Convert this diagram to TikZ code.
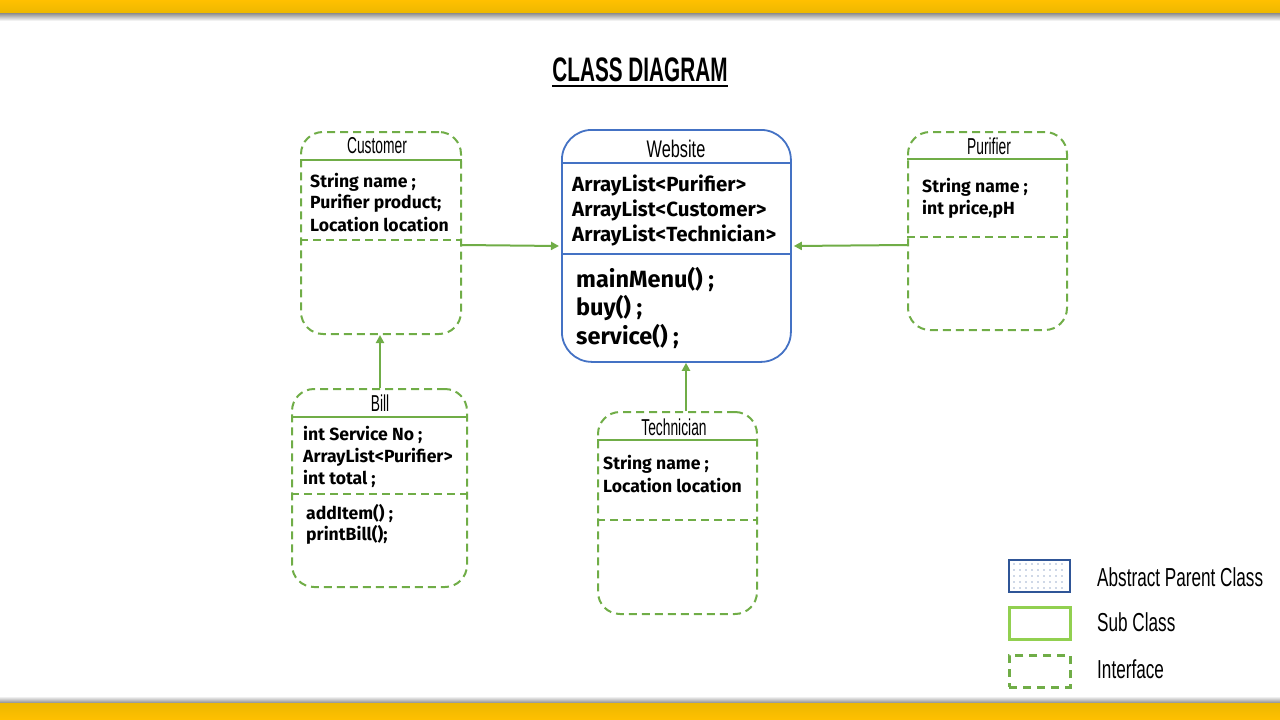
\documentclass[tikz,border=0pt]{standalone}
\usepackage{fontspec}
\setmainfont{Fira Sans}
\newfontfamily\condf{Liberation Sans}
\usetikzlibrary{arrows.meta}
\definecolor{ygold}{HTML}{FFC000}
\definecolor{ygold2}{HTML}{EDB800}
\definecolor{gline}{HTML}{70AD47}
\definecolor{lgreen}{HTML}{92D050}
\definecolor{wblue}{HTML}{4472C4}
\definecolor{dblue}{HTML}{2F5597}
\newcommand\narrowtxt[3]{\scalebox{#1}[1]{\fontsize{#2}{#2}\selectfont\condf #3}}
\tikzset{
  iface/.style={draw=gline, line width=2pt, dash pattern=on 8pt off 5pt, rounded corners=22pt, anchor=north west, inner sep=0},
  hdr/.style={draw=gline, line width=2pt},
  sep/.style={draw=gline, line width=2pt, dash pattern=on 8pt off 5pt},
  attr/.style={anchor=west, font=\bfseries\fontsize{17.6}{17.6}\selectfont, inner sep=0},
  wattr/.style={anchor=west, font=\bfseries\fontsize{20.5}{20.5}\selectfont, inner sep=0},
  wmeth/.style={anchor=west, font=\bfseries\fontsize{23.5}{23.5}\selectfont, inner sep=0},
  ttl/.style={inner sep=0},
  arr/.style={draw=gline, line width=2pt, -{Triangle[length=8pt,width=8pt]}},
  lbl/.style={anchor=west, inner sep=0},
}
\begin{document}
\begin{tikzpicture}[x=1pt,y=-1pt]
\useasboundingbox (0,0) rectangle (1280,720);
% top and bottom bars
\shade[top color=ygold, bottom color=ygold2] (0,0) rectangle (1280,13);
\shade[top color=black!45, bottom color=white] (0,13) rectangle (1280,21);
\shade[top color=white, bottom color=black!45] (0,696) rectangle (1280,703);
\shade[top color=ygold2, bottom color=ygold] (0,703) rectangle (1280,720);
% title
\node[ttl] (title) at (640,70) {\narrowtxt{0.61}{34pt}{\bfseries CLASS DIAGRAM}};
\draw[line width=2pt] (title.south west |- 0,86) -- (title.south east |- 0,86);

% Website
\node[draw=wblue, line width=1.8pt, rounded corners=30pt, minimum width=229pt, minimum height=232pt, anchor=north west, inner sep=0] (web) at (561,129) {};
\draw[draw=wblue, line width=1.8pt] (web.west |- 0,163) -- (web.east |- 0,163);
\draw[draw=wblue, line width=1.8pt] (web.west |- 0,254) -- (web.east |- 0,254);
\node[ttl] (webn) at (676,149) {\narrowtxt{0.68}{24pt}{Website}};
\node[wattr] (wa1) at (572,185) {ArrayList<Purifier>};
\node[wattr] (wa2) at (572,210) {ArrayList<Customer>};
\node[wattr] (wa3) at (572,235) {ArrayList<Technician>};
\node[wmeth] (wm1) at (576,279) {mainMenu() ;};
\node[wmeth] (wm2) at (576,308) {buy() ;};
\node[wmeth] (wm3) at (576,336) {service() ;};

% Customer
\node[iface, minimum width=160pt, minimum height=202pt] (cust) at (300,131) {};
\draw[hdr] (cust.west |- 0,160) -- (cust.east |- 0,160);
\draw[sep] (cust.west |- 0,240) -- (cust.east |- 0,240);
\node[ttl] (custn) at (377,146) {\narrowtxt{0.6}{23pt}{Customer}};
\node[attr] (ca1) at (310,182) {String name ;};
\node[attr] (ca2) at (310,203) {Purifier product;};
\node[attr] (ca3) at (310,225) {Location location};

% Purifier
\node[iface, minimum width=159pt, minimum height=198pt] (puri) at (907,131) {};
\draw[hdr] (puri.west |- 0,159) -- (puri.east |- 0,159);
\draw[sep] (puri.west |- 0,237) -- (puri.east |- 0,237);
\node[ttl] (purin) at (989,146) {\narrowtxt{0.6}{23pt}{Purifier}};
\node[attr] (pa1) at (922,187) {String name ;};
\node[attr] (pa2) at (922,209) {int price,pH};

% Bill
\node[iface, minimum width=175pt, minimum height=198pt] (bill) at (291,388) {};
\draw[hdr] (bill.west |- 0,417) -- (bill.east |- 0,417);
\draw[sep] (bill.west |- 0,494) -- (bill.east |- 0,494);
\node[ttl] (billn) at (380,403) {\narrowtxt{0.6}{23pt}{Bill}};
\node[attr] (ba1) at (303,435) {int Service No ;};
\node[attr] (ba2) at (303,457) {ArrayList<Purifier>};
\node[attr] (ba3) at (303,479) {int total ;};
\node[attr] (bm1) at (306,513) {addItem() ;};
\node[attr] (bm2) at (306,535) {printBill();};

% Technician
\node[iface, minimum width=159pt, minimum height=202pt] (tech) at (597,411) {};
\draw[hdr] (tech.west |- 0,440) -- (tech.east |- 0,440);
\draw[sep] (tech.west |- 0,520) -- (tech.east |- 0,520);
\node[ttl] (techn) at (674,427) {\narrowtxt{0.6}{23pt}{Technician}};
\node[attr] (ta1) at (603,464) {String name ;};
\node[attr] (ta2) at (603,486) {Location location};

% connectors
\draw[arr] (cust.east |- 0,245) -- ([xshift=-2pt]web.west |- 0,246);
\draw[arr] (puri.west |- 0,245) -- ([xshift=2pt]web.east |- 0,246);
\draw[arr] (bill.north -| 380,0) -- (cust.south -| 380,0);
\draw[arr] (tech.north -| 686,0) -- (web.south -| 686,0);

% legend
\node[draw=dblue, line width=1.8pt, minimum width=61pt, minimum height=32pt, anchor=north west, inner sep=0] (lgA) at (1008,559) {};
\foreach \xx in {1014,1020,...,1064} {\foreach \yy in {564,570,...,588} {\fill[dblue] (\xx,\yy) circle (0.55pt);}}
\node[draw=lgreen, line width=2.5pt, minimum width=61pt, minimum height=32pt, anchor=north west, inner sep=0] (lgB) at (1008,606) {};
\node[draw=gline, line width=2.5pt, dash pattern=on 8pt off 6pt, minimum width=61pt, minimum height=32pt, anchor=north west, inner sep=0] (lgC) at (1008,654) {};
\node[lbl] (lgAt) at (1097,577) {\narrowtxt{0.66}{26pt}{Abstract Parent Class}};
\node[lbl] (lgBt) at (1097,622) {\narrowtxt{0.66}{26pt}{Sub Class}};
\node[lbl] (lgCt) at (1097,669) {\narrowtxt{0.66}{26pt}{Interface}};
\end{tikzpicture}
\end{document}
